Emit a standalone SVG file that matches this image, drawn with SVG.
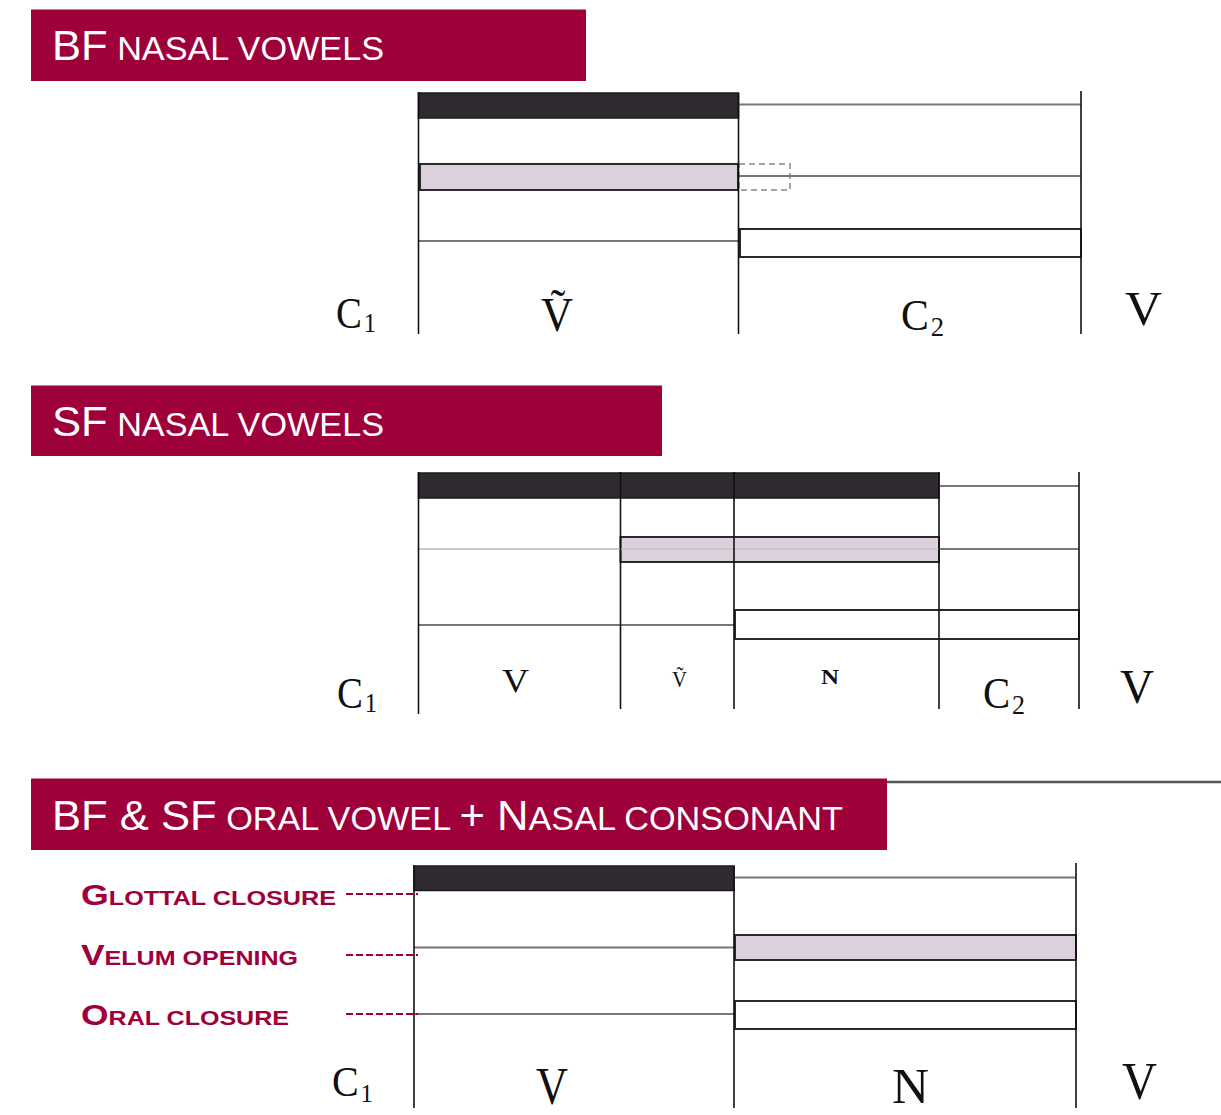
<svg xmlns="http://www.w3.org/2000/svg" width="1221" height="1115" viewBox="0 0 1221 1115">
<style>
.bar{fill:#9e003a}
.title{font-family:"Liberation Sans",Arial,sans-serif;fill:#ffffff}
.big{font-size:42px}
.sm{font-size:33px}
.vl{stroke:#111;stroke-width:1.6;fill:none}
.gl{stroke:#777;stroke-width:2;fill:none}
.lgl{stroke:#c8c8c8;stroke-width:2;fill:none}
.blk{fill:#2e2a30;stroke:#1a1a1a;stroke-width:1.5}
.pink{fill:#dcd0dc;stroke:#2a2a2a;stroke-width:2}
.wht{fill:#ffffff;stroke:#2a2a2a;stroke-width:2}
.dash{stroke:#888;stroke-width:1.5;stroke-dasharray:6,4;fill:none}
.lab{font-family:"Liberation Serif","Times New Roman",serif;fill:#111}
.lbl{font-family:"Liberation Sans",Arial,sans-serif;font-weight:bold;fill:#9e003a}
.ldash{stroke:#9e003a;stroke-width:2;stroke-dasharray:7,3;fill:none}
</style>

<!-- Titles -->
<g id="title1">
<rect class="bar" x="31" y="9.5" width="555" height="71.5"/>
<text class="title" x="52" y="60" textLength="332" lengthAdjust="spacingAndGlyphs"><tspan class="big">BF</tspan><tspan class="sm"> NASAL VOWELS</tspan></text>
</g>
<g id="title2">
<rect class="bar" x="31" y="385.5" width="631" height="70.5"/>
<text class="title" x="52" y="436" textLength="332" lengthAdjust="spacingAndGlyphs"><tspan class="big">SF</tspan><tspan class="sm"> NASAL VOWELS</tspan></text>
</g>
<g id="title3">
<rect class="bar" x="31" y="778.5" width="856" height="71.5"/>
<text class="title" x="52" y="830" textLength="791" lengthAdjust="spacingAndGlyphs"><tspan class="big">BF &amp; SF</tspan><tspan class="sm"> ORAL VOWEL </tspan><tspan class="big">+ N</tspan><tspan class="sm">ASAL CONSONANT</tspan></text>
<line x1="887" y1="782" x2="1221" y2="782" stroke="#555" stroke-width="2.5"/>
</g>

<!-- Panel 1 -->
<g id="panel1">
<rect class="blk" x="418.5" y="93" width="320" height="25"/>
<line class="gl" x1="739" y1="104.5" x2="1081" y2="104.5"/>
<rect class="pink" x="420" y="164" width="318" height="26"/>
<rect class="dash" x="739" y="164" width="51" height="26"/>
<line class="gl" x1="739" y1="176" x2="1081" y2="176"/>
<line class="gl" x1="418" y1="241" x2="738" y2="241"/>
<rect class="wht" x="740" y="229" width="341" height="28"/>
<line class="vl" x1="418.5" y1="92" x2="418.5" y2="334"/>
<line class="vl" x1="738.5" y1="93" x2="738.5" y2="334"/>
<line class="vl" x1="1081" y1="91" x2="1081" y2="334"/>
<text class="lab" x="336" y="328" font-size="44" textLength="40" lengthAdjust="spacingAndGlyphs">C<tspan font-size="28" dx="2" dy="4">1</tspan></text>
<text class="lab" x="541" y="331" font-size="48" textLength="32" lengthAdjust="spacingAndGlyphs">V&#x303;</text>
<text class="lab" x="901" y="330" font-size="44" textLength="43" lengthAdjust="spacingAndGlyphs">C<tspan font-size="28" dx="2" dy="6">2</tspan></text>
<text class="lab" x="1125" y="325" font-size="48" textLength="37" lengthAdjust="spacingAndGlyphs">V</text>
</g>

<!-- Panel 2 -->
<g id="panel2">
<rect class="blk" x="418.5" y="473" width="520.5" height="25"/>
<line class="gl" x1="939" y1="486" x2="1079" y2="486"/>
<rect class="pink" x="620.5" y="537" width="318.5" height="25"/>
<line class="lgl" x1="418" y1="549" x2="1079" y2="549"/>
<line class="gl" x1="939" y1="549" x2="1079" y2="549"/>
<line class="gl" x1="418" y1="625" x2="735" y2="625"/>
<rect class="wht" x="735" y="610" width="344" height="29"/>
<line class="vl" x1="418.5" y1="472" x2="418.5" y2="714"/>
<line class="vl" x1="620.5" y1="472" x2="620.5" y2="709"/>
<line class="vl" x1="734" y1="472" x2="734" y2="709"/>
<line class="vl" x1="939" y1="472" x2="939" y2="709"/>
<line class="vl" x1="1079" y1="472" x2="1079" y2="709"/>
<text class="lab" x="337" y="708" font-size="44" textLength="40" lengthAdjust="spacingAndGlyphs">C<tspan font-size="28" dx="2" dy="4">1</tspan></text>
<text class="lab" x="502" y="692" font-size="33" textLength="27" lengthAdjust="spacingAndGlyphs">V</text>
<text class="lab" x="672" y="687" font-size="23" textLength="15" lengthAdjust="spacingAndGlyphs">V&#x303;</text>
<text class="lab" x="821" y="684" font-size="21" font-weight="bold" textLength="18" lengthAdjust="spacingAndGlyphs">N</text>
<text class="lab" x="983" y="708" font-size="44" textLength="42" lengthAdjust="spacingAndGlyphs">C<tspan font-size="28" dx="2" dy="6">2</tspan></text>
<text class="lab" x="1120" y="703" font-size="48" textLength="34" lengthAdjust="spacingAndGlyphs">V</text>
</g>

<!-- Panel 3 -->
<g id="panel3">
<rect class="blk" x="414" y="866" width="320" height="24.5"/>
<line class="gl" x1="734" y1="877.5" x2="1076" y2="877.5"/>
<line class="gl" x1="414" y1="947.5" x2="734" y2="947.5"/>
<rect class="pink" x="735" y="935" width="341" height="25"/>
<line class="gl" x1="414" y1="1014" x2="734" y2="1014"/>
<rect class="wht" x="735" y="1001" width="341" height="28"/>
<line class="vl" x1="414" y1="865" x2="414" y2="1108"/>
<line class="vl" x1="734" y1="866" x2="734" y2="1108"/>
<line class="vl" x1="1076" y1="863" x2="1076" y2="1108"/>
<text class="lab" x="332" y="1096" font-size="42" textLength="41" lengthAdjust="spacingAndGlyphs">C<tspan font-size="26" dx="2" dy="6">1</tspan></text>
<text class="lab" x="536" y="1104" font-size="52" textLength="32" lengthAdjust="spacingAndGlyphs">V</text>
<text class="lab" x="892" y="1103" font-size="50" textLength="37" lengthAdjust="spacingAndGlyphs">N</text>
<text class="lab" x="1122" y="1099" font-size="52" textLength="35" lengthAdjust="spacingAndGlyphs">V</text>
</g>

<!-- Row labels -->
<g id="label-glottal">
<text class="lbl" x="81" y="905" textLength="255" lengthAdjust="spacingAndGlyphs"><tspan font-size="29">G</tspan><tspan font-size="20.5">LOTTAL CLOSURE</tspan></text>
<line class="ldash" x1="346" y1="894" x2="418" y2="894"/>
</g>
<g id="label-velum">
<text class="lbl" x="81" y="965" textLength="217" lengthAdjust="spacingAndGlyphs"><tspan font-size="29">V</tspan><tspan font-size="20.5">ELUM OPENING</tspan></text>
<line class="ldash" x1="346" y1="955" x2="418" y2="955"/>
</g>
<g id="label-oral">
<text class="lbl" x="81" y="1025" textLength="208" lengthAdjust="spacingAndGlyphs"><tspan font-size="29">O</tspan><tspan font-size="20.5">RAL CLOSURE</tspan></text>
<line class="ldash" x1="346" y1="1014" x2="418" y2="1014"/>
</g>
</svg>
